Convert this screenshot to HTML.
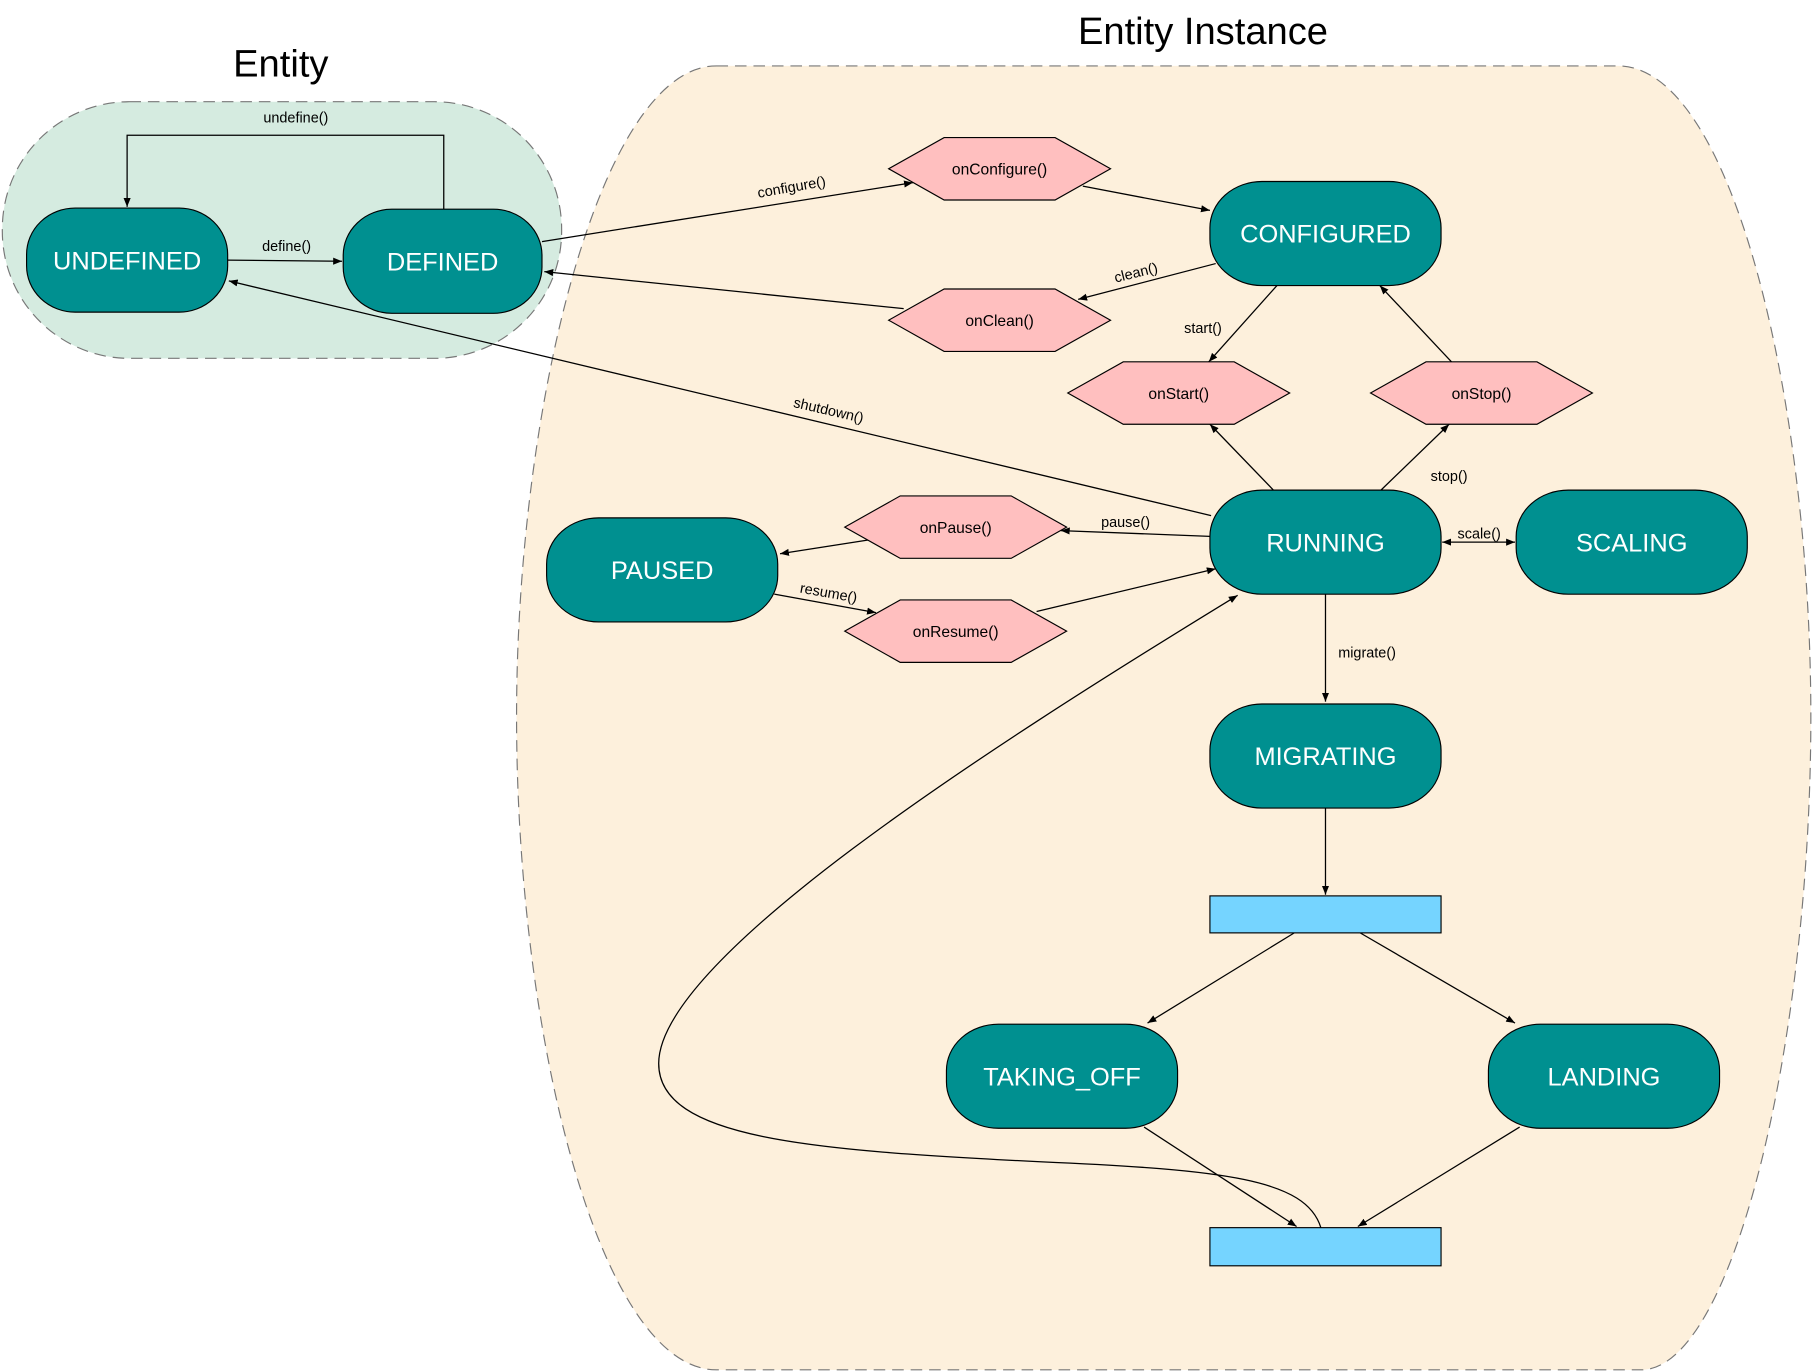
<!DOCTYPE html>
<html><head><meta charset="utf-8"><style>html,body{margin:0;padding:0;background:#fff}svg{display:block}</style></head>
<body>
<svg width="1812" height="1371" viewBox="0 0 1568 1186" preserveAspectRatio="none" xmlns="http://www.w3.org/2000/svg" font-family="Liberation Sans, sans-serif">
<defs>
<marker id="a" viewBox="0 0 10 10" refX="10" refY="5" markerWidth="7" markerHeight="7" orient="auto-start-reverse"><path d="M0,1 L10,5 L0,9 Z" fill="#000"/></marker>
</defs>
<rect x="0" y="0" width="1568" height="1186" fill="#fff"/>
<rect x="2" y="88" width="484" height="222" rx="110" ry="110" fill="#d5ebe0" stroke="#777" stroke-dasharray="10,6"/>
<path d="M620 57 L1400 57 C1500 57 1567 350 1567 620 C1567 900 1500 1185 1420 1185 L620 1185 C520 1185 447 900 447 620 C447 350 520 57 620 57 Z" fill="#fdf0dc" stroke="#777" stroke-dasharray="10,6"/>
<text x="243" y="66" font-size="33" text-anchor="middle">Entity</text>
<text x="1041" y="38" font-size="33" text-anchor="middle">Entity Instance</text>

<g fill="none" stroke="#000" stroke-width="1.1">
<path d="M384 181 V117 H110 V179" marker-end="url(#a)"/>
<path d="M197 225 L296 226" marker-end="url(#a)"/>
<path d="M469 209 L790 158" marker-end="url(#a)"/>
<path d="M937 161 L1047 182" marker-end="url(#a)"/>
<path d="M1052 228 L933 259" marker-end="url(#a)"/>
<path d="M782 267 L471 235" marker-end="url(#a)"/>
<path d="M1048 446 L198 243" marker-end="url(#a)"/>
<path d="M1105 247 L1046 313" marker-end="url(#a)"/>
<path d="M1102 424 L1047 367" marker-end="url(#a)"/>
<path d="M1195 424 L1254 367" marker-end="url(#a)"/>
<path d="M1256 313 L1194 247" marker-end="url(#a)"/>
<path d="M1047 464 L918 459" marker-end="url(#a)"/>
<path d="M752 467 L675 479" marker-end="url(#a)"/>
<path d="M670 514 L758 530" marker-end="url(#a)"/>
<path d="M897 529 L1052 492" marker-end="url(#a)"/>
<path d="M1248 469 L1311 469" marker-start="url(#a)" marker-end="url(#a)"/>
<path d="M1147 514 V607" marker-end="url(#a)"/>
<path d="M1147 699 V774" marker-end="url(#a)"/>
<path d="M1120 807 L993 885" marker-end="url(#a)"/>
<path d="M1177 807 L1311 885" marker-end="url(#a)"/>
<path d="M990 975 L1122 1061" marker-end="url(#a)"/>
<path d="M1315 975 L1175 1061" marker-end="url(#a)"/>
<path d="M1143 1062 C1130 1020 1060 1012 900 1005 C700 995 570 985 570 920 C570 830 850 650 1071 515" marker-end="url(#a)"/>
</g>

<g font-size="12.5" fill="#000" text-anchor="middle">
<text x="256" y="106">undefine()</text>
<text x="248" y="217">define()</text>
<text x="685" y="166" transform="rotate(-10 685 162)">configure()</text>
<text x="983" y="240" transform="rotate(-14 983 236)">clean()</text>
<text x="717" y="359" transform="rotate(13 717 355)">shutdown()</text>
<text x="1041" y="288">start()</text>
<text x="1254" y="416">stop()</text>
<text x="974" y="456">pause()</text>
<text x="717" y="517" transform="rotate(10 717 513)">resume()</text>
<text x="1280" y="466">scale()</text>
<text x="1183" y="569">migrate()</text>
</g>

<g fill="#009090" stroke="#000" stroke-width="1">
<rect x="23" y="180" width="174" height="90" rx="42" ry="40"/>
<rect x="297" y="181" width="172" height="90" rx="42" ry="40"/>
<rect x="1047" y="157" width="200" height="90" rx="45" ry="40"/>
<rect x="1047" y="424" width="200" height="90" rx="45" ry="40"/>
<rect x="1312" y="424" width="200" height="90" rx="45" ry="40"/>
<rect x="473" y="448" width="200" height="90" rx="45" ry="40"/>
<rect x="1047" y="609" width="200" height="90" rx="45" ry="40"/>
<rect x="819" y="886" width="200" height="90" rx="45" ry="40"/>
<rect x="1288" y="886" width="200" height="90" rx="45" ry="40"/>
</g>
<g font-size="22" fill="#fff" text-anchor="middle">
<text x="110" y="233">UNDEFINED</text>
<text x="383" y="234">DEFINED</text>
<text x="1147" y="210">CONFIGURED</text>
<text x="1147" y="477">RUNNING</text>
<text x="1412" y="477">SCALING</text>
<text x="573" y="501">PAUSED</text>
<text x="1147" y="662">MIGRATING</text>
<text x="919" y="939">TAKING_OFF</text>
<text x="1388" y="939">LANDING</text>
</g>

<g fill="#ffbfbf" stroke="#000" stroke-width="1">
<polygon points="769,146 817,119 913,119 961,146 913,173 817,173"/>
<polygon points="769,277 817,250 913,250 961,277 913,304 817,304"/>
<polygon points="924,340 972,313 1068,313 1116,340 1068,367 972,367"/>
<polygon points="1186,340 1234,313 1330,313 1378,340 1330,367 1234,367"/>
<polygon points="731,456 779,429 875,429 923,456 875,483 779,483"/>
<polygon points="731,546 779,519 875,519 923,546 875,573 779,573"/>
</g>
<g font-size="13.5" fill="#000" text-anchor="middle">
<text x="865" y="151">onConfigure()</text>
<text x="865" y="282">onClean()</text>
<text x="1020" y="345">onStart()</text>
<text x="1282" y="345">onStop()</text>
<text x="827" y="461">onPause()</text>
<text x="827" y="551">onResume()</text>
</g>

<rect x="1047" y="775" width="200" height="32" fill="#75d4ff" stroke="#000"/>
<rect x="1047" y="1062" width="200" height="33" fill="#75d4ff" stroke="#000"/>
</svg>
</body></html>
